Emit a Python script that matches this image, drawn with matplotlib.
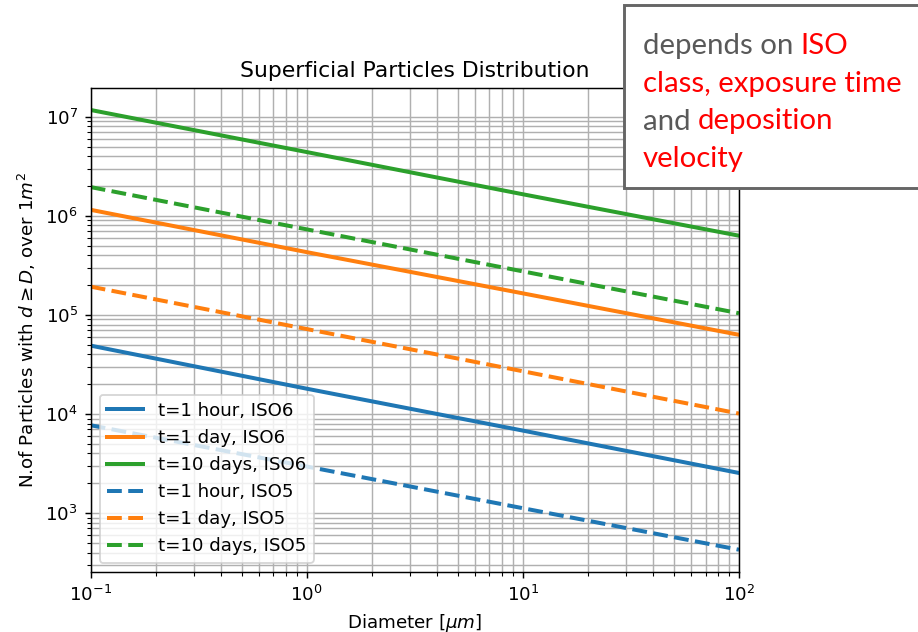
import numpy as np
import matplotlib
matplotlib.use("Agg")
import matplotlib.pyplot as plt
from matplotlib.patches import Rectangle

# diameters [um] and particle counts
diameter = [0.1, 1.0, 10.0, 100.0]
iso6_1hour = [4.9e4, 1.8e4, 6.8e3, 2.54e3]
iso6_1day = [1.15e6, 4.3e5, 1.65e5, 6.3e4]
iso6_10days = [1.17e7, 4.4e6, 1.65e6, 6.3e5]
iso5_1hour = [7.7e3, 2.95e3, 1.12e3, 4.27e2]
iso5_1day = [1.93e5, 7.2e4, 2.7e4, 1.01e4]
iso5_10days = [1.95e6, 7.3e5, 2.75e5, 1.04e5]

W, H = 918, 632
DPI = 131
fig = plt.figure(figsize=(W / DPI, H / DPI), dpi=DPI)
ax = fig.add_axes([90.7 / W, 60.3 / H, 648.3 / W, 483.7 / H])

lw = 2.2
ax.loglog(diameter, iso6_1hour, color="C0", lw=lw, label="t=1 hour, ISO6")
ax.loglog(diameter, iso6_1day, color="C1", lw=lw, label="t=1 day, ISO6")
ax.loglog(diameter, iso6_10days, color="C2", lw=lw, label="t=10 days, ISO6")
ax.loglog(diameter, iso5_1hour, "--", color="C0", lw=lw, label="t=1 hour, ISO5")
ax.loglog(diameter, iso5_1day, "--", color="C1", lw=lw, label="t=1 day, ISO5")
ax.loglog(diameter, iso5_10days, "--", color="C2", lw=lw, label="t=10 days, ISO5")

ax.set_xlim(0.1, 100)
ax.set_title("Superficial Particles Distribution")
ax.set_xlabel(r"Diameter [$\mu m$]")
ax.set_ylabel(r"N.of Particles with $d \geq D$, over $1m^2$")
ax.grid(True, which="both")
ax.legend(loc="lower left")

# callout box on the top right
box = Rectangle((624 / W, (H - 188) / H), 0.4, 183 / H,
                transform=fig.transFigure, facecolor="white",
                edgecolor="#666666", linewidth=1.6, zorder=5)
fig.add_artist(box)

gray = "#595959"
red = "#ff0000"
family = "Lato"
renderer = fig.canvas.get_renderer()

# pick a font size so the longest line is about 260 px wide
probe = fig.text(0, 0, "class, exposure time", fontsize=10, family=family)
size = 10 * 260 / probe.get_window_extent(renderer).width
probe.remove()

lines = [
    [("depends on ", gray), ("ISO", red)],
    [("class, exposure time", red)],
    [("and ", gray), ("deposition", red)],
    [("velocity", red)],
]
baselines = [54, 91.7, 129.5, 166.7]
for parts, yb in zip(lines, baselines):
    x = 642.7
    for txt, col in parts:
        t = fig.text(x / W, (H - yb) / H, txt, color=col, fontsize=size,
                     family=family, va="baseline", ha="left", zorder=6)
        x += t.get_window_extent(renderer).width

fig.savefig("out.png", dpi=DPI)
